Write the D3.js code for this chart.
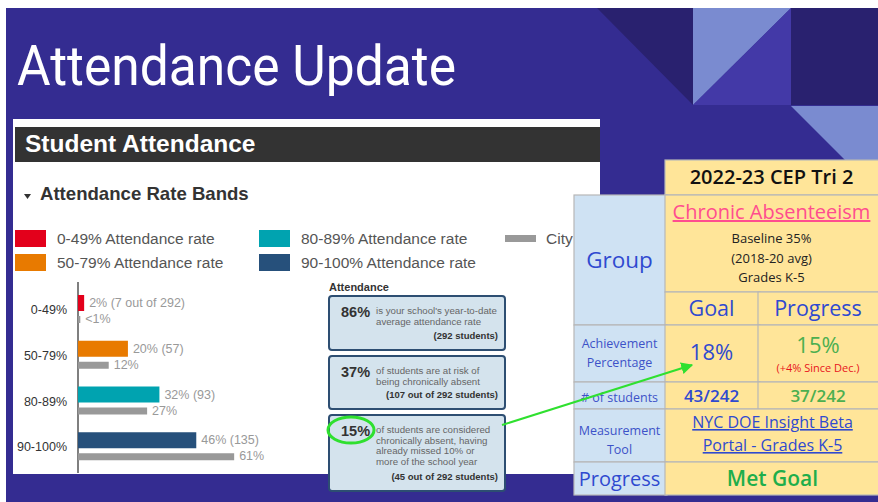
<!DOCTYPE html>
<html>
<head>
<meta charset="utf-8">
<script src="https://cdn.jsdelivr.net/npm/d3@7"></script>
<style>
  body { margin: 0; background: #fff; }
  svg { display: block; }
  .arial { font-family: "Liberation Sans", Arial, sans-serif; }
  .round { font-family: "Open Sans", "Noto Sans", sans-serif; }
</style>
</head>
<body>
<div id="root"></div>
<script>
// chart data
const bands = ['0-49%', '50-79%', '80-89%', '90-100%'];
const schoolPct = [2.4, 19.5, 31.8, 46.2];
const schoolLabels = ['2% (7 out of 292)', '20% (57)', '32% (93)', '46% (135)'];
const cityPct = [0.9, 12, 27, 61];
const cityLabels = ['<1%', '12%', '27%', '61%'];
const bandColors = ['#e3001b', '#e87a00', '#00a3b0', '#26507b'];
const cityColor = '#999999';

const legendLabels = ['0-49% Attendance rate', '50-79% Attendance rate', '80-89% Attendance rate', '90-100% Attendance rate', 'City'];

// attendance summary boxes
const attendancePct = ['86%', '37%', '15%'];
const attendanceText = [
  ['is your school\'s year-to-date', 'average attendance rate'],
  ['of students are at risk of', 'being chronically absent'],
  ['of students are considered', 'chronically absent, having', 'already missed 10% or', 'more of the school year']
];
const attendanceCounts = ['(292 students)', '(107 out of 292 students)', '(45 out of 292 students)'];

// CEP table
const cepTitle = '2022-23 CEP Tri 2';
const cepGoalName = 'Chronic Absenteeism';
const cepBaseline = ['Baseline 35%', '(2018-20 avg)', 'Grades K-5'];
const cepColumns = ['Goal', 'Progress'];
const cepRowLabels = [['Achievement', 'Percentage'], ['# of students'], ['Measurement', 'Tool']];
const goalValues = ['18%', '43/242'];
const progressValues = ['15%', '37/242'];
const progressNote = '(+4% Since Dec.)';
const toolLines = ['NYC DOE Insight Beta', 'Portal - Grades K-5'];
const progressResult = 'Met Goal';

const width = 878, height = 502;

const svg = d3.select('#root').append('svg')
  .attr('width', width)
  .attr('height', height)
  .attr('viewBox', [0, 0, width, height]);

// slide background
svg.append('rect').attr('x', 6).attr('y', 8).attr('width', width - 6).attr('height', height - 8).attr('fill', '#342c91');

// decorative triangles top right
const deco = [
  { pts: [[597, 8], [693, 8], [693, 105]], fill: '#29216f' },
  { pts: [[693, 8], [791, 8], [693, 105]], fill: '#7a8bd0' },
  { pts: [[791, 8], [791, 105], [693, 105]], fill: '#4339a7' },
  { pts: [[791, 8], [878, 8], [878, 105], [791, 105]], fill: '#29216f' },
  { pts: [[791, 106], [878, 106], [878, 193]], fill: '#7a8bd0' }
];
svg.selectAll('polygon.deco')
  .data(deco)
  .join('polygon')
  .attr('class', 'deco')
  .attr('points', (d) => d.pts.map((p) => p.join(',')).join(' '))
  .attr('fill', (d) => d.fill);

svg.append('text')
  .attr('x', 17).attr('y', 85)
  .attr('fill', '#fff')
  .attr('textLength', 439)
  .attr('lengthAdjust', 'spacingAndGlyphs')
  .style('font-family', 'Roboto, sans-serif')
  .style('font-size', '56px')
  .text('Attendance Update');

// white panel
svg.append('rect').attr('x', 13).attr('y', 119).attr('width', 587).attr('height', 355).attr('fill', '#fff');
svg.append('rect').attr('x', 15).attr('y', 127).attr('width', 585).attr('height', 35).attr('fill', '#333');
svg.append('text').attr('class', 'arial')
  .attr('x', 25).attr('y', 152)
  .attr('fill', '#fff').style('font-size', '24.5px').style('font-weight', 'bold')
  .text('Student Attendance');

svg.append('path').attr('d', 'M24,194 L31,194 L27.5,199 Z').attr('fill', '#333');
svg.append('text').attr('class', 'arial')
  .attr('x', 40).attr('y', 200)
  .attr('fill', '#333').style('font-size', '18.6px').style('font-weight', 'bold')
  .text('Attendance Rate Bands');

// legend
const legendPos = [[15, 230], [15, 254], [259, 230], [259, 254], [505, 230]];
const legendColors = bandColors.concat([cityColor]);
const legend = svg.selectAll('g.legend')
  .data(legendLabels)
  .join('g')
  .attr('class', 'legend arial')
  .attr('transform', (d, i) => `translate(${legendPos[i][0]}, ${legendPos[i][1]})`);
legend.append('rect')
  .attr('y', (d, i) => (i === 4 ? 5 : 0))
  .attr('width', 31)
  .attr('height', (d, i) => (i === 4 ? 7 : 17))
  .attr('fill', (d, i) => legendColors[i]);
legend.append('text')
  .attr('x', (d, i) => (i === 4 ? 41 : 42))
  .attr('y', 14)
  .attr('fill', '#555')
  .style('font-size', '15.5px')
  .text((d) => d);

// bar chart
const x0 = 78;
const xScale = d3.scaleLinear().domain([0, 100]).range([x0, x0 + 256]);
const yScale = d3.scaleBand().domain(bands).range([289, 472]);

svg.append('line')
  .attr('x1', x0).attr('x2', x0).attr('y1', 282).attr('y2', 473)
  .attr('stroke', '#555').attr('stroke-width', 1.5);

const groups = svg.selectAll('g.band')
  .data(bands)
  .join('g')
  .attr('class', 'band arial')
  .attr('transform', (d) => `translate(0, ${yScale(d)})`);

groups.append('text')
  .attr('x', 67).attr('y', 25)
  .attr('text-anchor', 'end')
  .attr('fill', '#333').style('font-size', '12.5px')
  .text((d) => d);

groups.append('rect')
  .attr('x', x0).attr('y', 6)
  .attr('width', (d, i) => xScale(schoolPct[i]) - x0)
  .attr('height', 16)
  .attr('fill', (d, i) => bandColors[i]);

groups.append('rect')
  .attr('x', x0).attr('y', 27)
  .attr('width', (d, i) => xScale(cityPct[i]) - x0)
  .attr('height', 7)
  .attr('fill', cityColor);

groups.append('text')
  .attr('x', (d, i) => xScale(schoolPct[i]) + 5).attr('y', 18)
  .attr('fill', '#999').style('font-size', '12.5px')
  .text((d, i) => schoolLabels[i]);

groups.append('text')
  .attr('x', (d, i) => xScale(cityPct[i]) + 5).attr('y', 34)
  .attr('fill', '#999').style('font-size', '12.5px')
  .text((d, i) => cityLabels[i]);

// attendance boxes
svg.append('text').attr('class', 'arial')
  .attr('x', 329).attr('y', 291)
  .attr('fill', '#333').style('font-size', '11px').style('font-weight', 'bold')
  .text('Attendance');

const boxTops = [296, 356, 415];
const boxHeights = [54, 53, 76];
const boxes = svg.selectAll('g.abox')
  .data(attendancePct)
  .join('g')
  .attr('class', 'abox arial')
  .attr('transform', (d, i) => `translate(329, ${boxTops[i]})`);
boxes.append('rect')
  .attr('width', 176)
  .attr('height', (d, i) => boxHeights[i])
  .attr('rx', 3)
  .attr('fill', '#d4e3ed')
  .attr('stroke', '#2d4e72')
  .attr('stroke-width', 2);
boxes.append('text')
  .attr('x', 12).attr('y', 21)
  .attr('fill', '#333').style('font-size', '14.5px').style('font-weight', 'bold')
  .text((d) => d);
boxes.each(function (d, i) {
  d3.select(this).selectAll('text.line')
    .data(attendanceText[i])
    .join('text')
    .attr('class', 'line')
    .attr('x', 47)
    .attr('y', (t, j) => 18 + j * 10.7)
    .attr('fill', '#666').style('font-size', '9.7px')
    .text((t) => t);
});
boxes.append('text')
  .attr('x', 169)
  .attr('y', (d, i) => boxHeights[i] - 11)
  .attr('text-anchor', 'end')
  .attr('fill', '#333').style('font-size', '9.5px').style('font-weight', 'bold')
  .text((d, i) => attendanceCounts[i]);

// CEP table
const tx0 = 574, tx1 = 665, tx2 = 758, tx3 = 878;
const rowY = [160, 195, 292, 325, 382, 409, 462, 495];
const cells = [
  { x: tx1, y: rowY[0], w: tx3 - tx1, h: rowY[1] - rowY[0], fill: '#ffe599' },
  { x: tx0, y: rowY[1], w: tx1 - tx0, h: rowY[3] - rowY[1], fill: '#cfe2f3' },
  { x: tx1, y: rowY[1], w: tx3 - tx1, h: rowY[2] - rowY[1], fill: '#ffe599' },
  { x: tx1, y: rowY[2], w: tx2 - tx1, h: rowY[3] - rowY[2], fill: '#ffe599' },
  { x: tx2, y: rowY[2], w: tx3 - tx2, h: rowY[3] - rowY[2], fill: '#ffe599' },
  { x: tx0, y: rowY[3], w: tx1 - tx0, h: rowY[4] - rowY[3], fill: '#cfe2f3' },
  { x: tx1, y: rowY[3], w: tx2 - tx1, h: rowY[4] - rowY[3], fill: '#ffe599' },
  { x: tx2, y: rowY[3], w: tx3 - tx2, h: rowY[4] - rowY[3], fill: '#ffe599' },
  { x: tx0, y: rowY[4], w: tx1 - tx0, h: rowY[5] - rowY[4], fill: '#cfe2f3' },
  { x: tx1, y: rowY[4], w: tx2 - tx1, h: rowY[5] - rowY[4], fill: '#ffe599' },
  { x: tx2, y: rowY[4], w: tx3 - tx2, h: rowY[5] - rowY[4], fill: '#ffe599' },
  { x: tx0, y: rowY[5], w: tx1 - tx0, h: rowY[6] - rowY[5], fill: '#cfe2f3' },
  { x: tx1, y: rowY[5], w: tx3 - tx1, h: rowY[6] - rowY[5], fill: '#ffe599' },
  { x: tx0, y: rowY[6], w: tx1 - tx0, h: rowY[7] - rowY[6], fill: '#cfe2f3' },
  { x: tx1, y: rowY[6], w: tx3 - tx1, h: rowY[7] - rowY[6], fill: '#ffe599' }
];
svg.selectAll('rect.cell')
  .data(cells)
  .join('rect')
  .attr('class', 'cell')
  .attr('x', (d) => d.x).attr('y', (d) => d.y)
  .attr('width', (d) => d.w + 2).attr('height', (d) => d.h)
  .attr('fill', (d) => d.fill)
  .attr('stroke', '#b7b7b7').attr('stroke-width', 1.2);

const blue = '#2f4ad0', green = '#4caf50';
const cep = svg.append('g').attr('class', 'round').attr('text-anchor', 'middle');
const cx1 = (tx1 + tx3) / 2, cxG = (tx1 + tx2) / 2, cxP = (tx2 + tx3) / 2, cx0 = (tx0 + tx1) / 2;

cep.append('text').attr('x', cx1).attr('y', 184).attr('fill', '#111')
  .style('font-size', '20px').style('font-weight', 600).text(cepTitle);
cep.append('text').attr('x', cx1).attr('y', 219).attr('fill', '#ff4d8f')
  .style('font-size', '20px').style('text-decoration', 'underline').text(cepGoalName);
cep.selectAll('text.base')
  .data(cepBaseline)
  .join('text')
  .attr('class', 'base')
  .attr('x', cx1).attr('y', (d, i) => 243 + i * 19.5)
  .attr('fill', '#222').style('font-size', '13px')
  .text((d) => d);
cep.append('text').attr('x', cx0).attr('y', 268).attr('fill', blue)
  .style('font-size', '22.5px').style('font-weight', 500).text('Group');
cep.selectAll('text.col')
  .data(cepColumns)
  .join('text')
  .attr('class', 'col')
  .attr('x', (d, i) => (i === 0 ? cxG : cxP)).attr('y', 316)
  .attr('fill', blue).style('font-size', '21.5px').style('font-weight', 500)
  .text((d) => d);

const labelTops = [348, 402, 435];
cepRowLabels.forEach((lines, r) => {
  cep.selectAll(`text.rl${r}`)
    .data(lines)
    .join('text')
    .attr('class', `rl${r}`)
    .attr('x', cx0).attr('y', (d, i) => labelTops[r] + i * 19)
    .attr('fill', '#3d52c8').style('font-size', '12.5px')
    .text((d) => d);
});

cep.append('text').attr('x', cxG).attr('y', 360).attr('fill', blue)
  .style('font-size', '22px').text(goalValues[0]);
cep.append('text').attr('x', cxP).attr('y', 353).attr('fill', green)
  .style('font-size', '22px').text(progressValues[0]);
cep.append('text').attr('x', cxP).attr('y', 372).attr('fill', '#e8141c')
  .style('font-size', '11px').text(progressNote);
cep.append('text').attr('x', cxG).attr('y', 402).attr('fill', blue)
  .style('font-size', '17px').style('font-weight', 600).text(goalValues[1]);
cep.append('text').attr('x', cxP).attr('y', 402).attr('fill', green)
  .style('font-size', '17px').style('font-weight', 600).text(progressValues[1]);
cep.selectAll('text.tool')
  .data(toolLines)
  .join('text')
  .attr('class', 'tool')
  .attr('x', cx1 + 1).attr('y', (d, i) => 428 + i * 23)
  .attr('fill', blue).style('font-size', '16px').style('text-decoration', 'underline')
  .text((d) => d);
cep.append('text').attr('x', cx0).attr('y', 486).attr('fill', blue)
  .style('font-size', '20px').style('font-weight', 500).text('Progress');
cep.append('text').attr('x', cx1 + 1).attr('y', 486).attr('fill', '#1fae4b')
  .style('font-size', '21px').style('font-weight', 600).text(progressResult);

// green highlight
svg.append('ellipse')
  .attr('cx', 351).attr('cy', 430).attr('rx', 23).attr('ry', 13)
  .attr('fill', 'none').attr('stroke', '#2fe02f').attr('stroke-width', 3);

svg.append('defs').append('marker')
  .attr('id', 'arrow').attr('viewBox', '0 0 10 10')
  .attr('refX', 9).attr('refY', 5)
  .attr('markerWidth', 6).attr('markerHeight', 6)
  .attr('orient', 'auto')
  .append('path').attr('d', 'M0,0 L10,5 L0,10 Z').attr('fill', '#2fe02f');
svg.append('line')
  .attr('x1', 502).attr('y1', 425).attr('x2', 692).attr('y2', 365)
  .attr('stroke', '#2fe02f').attr('stroke-width', 2)
  .attr('marker-end', 'url(#arrow)');
</script>
</body>
</html>
